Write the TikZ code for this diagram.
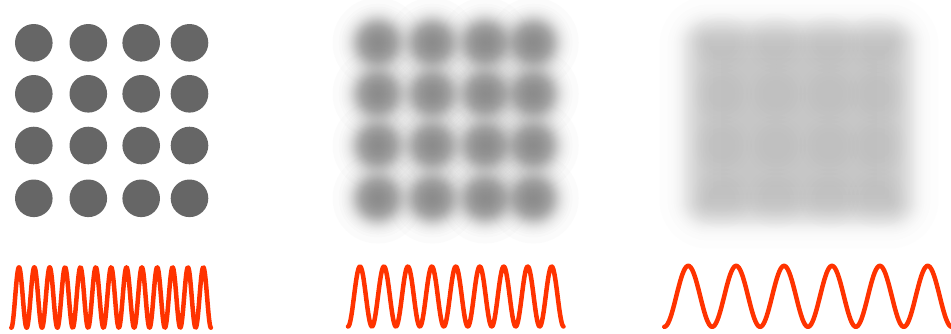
\documentclass[tikz,border=0pt]{standalone}
\begin{document}
\begin{tikzpicture}[x=1pt,y=-1pt]
\definecolor{dotgray}{HTML}{666666}
\definecolor{wavered}{HTML}{FF3300}
\tikzset{
  sharpdot/.style={fill=dotgray},
  softlayer/.style={fill=dotgray, fill opacity=#1},
  wave/.style={draw=wavered, line width=4.5pt, line cap=round, line join=round}
}
\useasboundingbox (0,0) rectangle (951,333);
% ---------- left: sharp dots ----------
\foreach \x in {33.8,88.3,141.2,189.5}
  \foreach \y in {42.8,93.8,145.5,198.3}
    \fill[sharpdot] (\x,\y) circle[radius=18.8pt];
% ---------- middle: blurred dots (stacked soft layers) ----------
\foreach \k in {1,...,60}{
  \pgfmathsetmacro{\r}{19+5.5*ln((\k-0.5)/(60.5-\k))}
  \ifdim \r pt>0.5pt
    \foreach \x in {33.8,88.3,141.2,189.5}
      \foreach \y in {42.8,93.8,145.5,198.3}
        \fill[softlayer=0.0231] (\x+344,\y) circle[radius=\r pt];
  \fi
}
% ---------- right: strongly blurred square ----------
\foreach \k in {1,...,40}{
  \pgfmathsetmacro{\e}{7*ln((\k-0.5)/(40.5-\k))}
  \pgfmathsetmacro{\rc}{max(3,18+\e)}
  \fill[softlayer=0.0135, rounded corners=\rc pt]
    (690-\e,27-\e) rectangle (908+\e,218+\e);
}
\foreach \r in {14,18,22,26,30}
  \foreach \x in {33.8,88.3,141.2,189.5}
    \foreach \y in {42.8,93.8,145.5,198.3}
      \fill[softlayer=0.012] (\x+688,\y) circle[radius=\r pt];
% ---------- waves ----------
\draw[wave] plot[variable=\t, domain=0:13, samples=520, smooth]
  ({11.3+15.36*\t},{297.5+30.2*cos(360*\t)});
\draw[wave] plot[variable=\t, domain=0:9, samples=360, smooth]
  ({348+23.96*\t},{296.5+30*cos(360*\t)});
\draw[wave] plot[variable=\t, domain=0:6, samples=240, smooth]
  ({664.3+47.9*\t},{296.3+30.5*cos(360*\t)});
\end{tikzpicture}
\end{document}
